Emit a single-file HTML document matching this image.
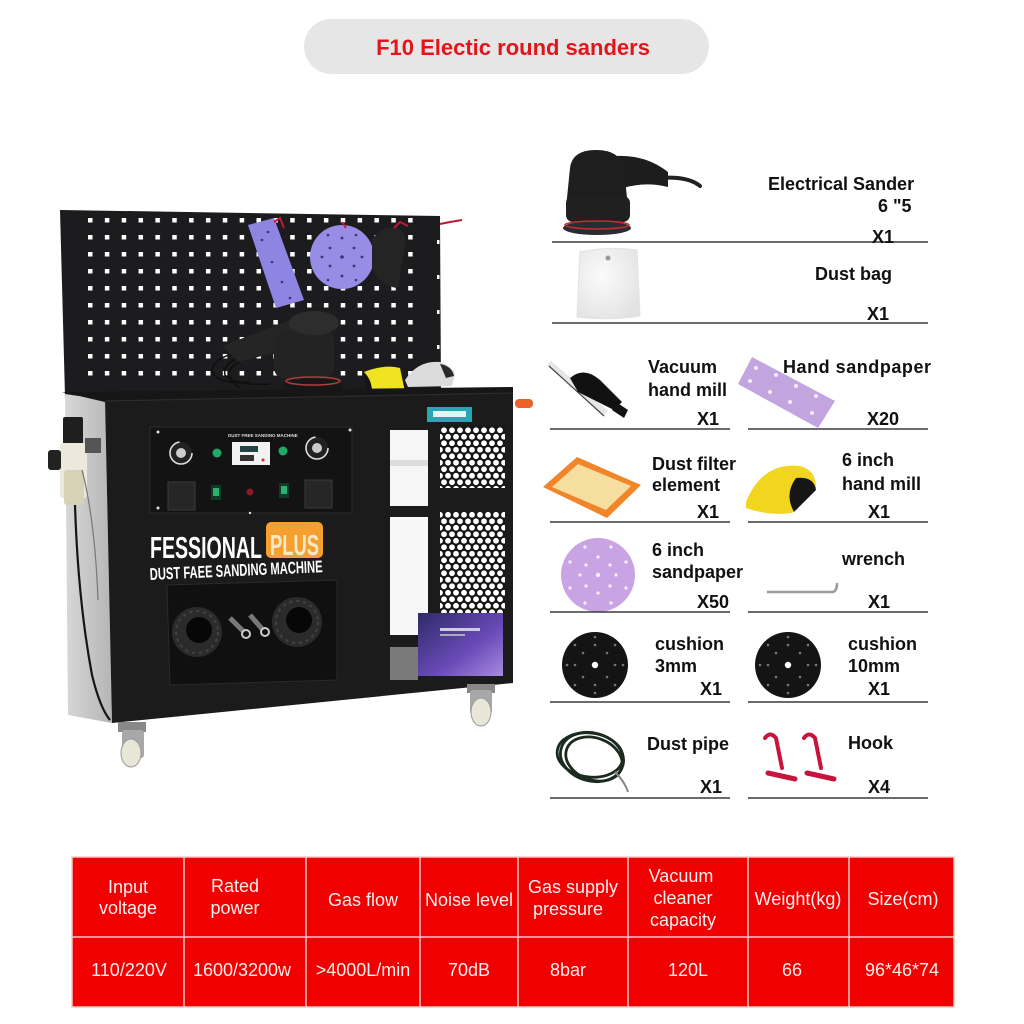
<!DOCTYPE html>
<html><head><meta charset="utf-8">
<style>
html,body{margin:0;padding:0;background:#fff;}
svg{display:block}
text{font-family:"Liberation Sans",Arial,sans-serif;}
.b{font-weight:bold;fill:#111;font-size:18px;}
.t{fill:#ffeeee;font-size:18px;text-anchor:middle;}
</style></head><body>
<svg width="1024" height="1024" viewBox="0 0 1024 1024" xmlns="http://www.w3.org/2000/svg">
<defs>
<pattern id="peg" x="88" y="218" width="16.85" height="17" patternUnits="userSpaceOnUse"><rect x="0" y="0" width="4.5" height="4.5" fill="#fff"/></pattern>
<pattern id="hex" x="440" y="427" width="8" height="13" patternUnits="userSpaceOnUse"><rect width="8" height="13" fill="#161616"/><circle cx="4" cy="3.25" r="2.9" fill="#fff"/><circle cx="0" cy="9.75" r="2.9" fill="#fff"/><circle cx="8" cy="9.75" r="2.9" fill="#fff"/></pattern>
<linearGradient id="side" x1="0" y1="0" x2="1" y2="0"><stop offset="0" stop-color="#d8d8d8"/><stop offset="1" stop-color="#b5b5b5"/></linearGradient>
<linearGradient id="box" x1="0" y1="0" x2="1" y2="1"><stop offset="0" stop-color="#2e2a6a"/><stop offset="0.6" stop-color="#6a4bb8"/><stop offset="1" stop-color="#a88ae0"/></linearGradient>
<radialGradient id="bag" cx="0.4" cy="0.4" r="0.7"><stop offset="0" stop-color="#fbfbfb"/><stop offset="1" stop-color="#e2e2e2"/></radialGradient>
</defs>

<rect width="1024" height="1024" fill="#fff"/>

<!-- Title pill -->
<rect x="304" y="19" width="405" height="55" rx="27.5" fill="#e6e6e6"/>
<text x="513" y="55" text-anchor="middle" font-size="22" font-weight="bold" fill="#e2151d">F10 Electic round sanders</text>

<!-- ===== Machine ===== -->
<!-- pegboard -->
<polygon points="60,210 440,216 441,394 65,396" fill="#1c1c1e"/>
<rect x="86" y="216" width="330" height="164" fill="url(#peg)"/>
<g fill="#fff"><rect x="437" y="240" width="2.5" height="4"/><rect x="437" y="275" width="2.5" height="4"/><rect x="437" y="310" width="2.5" height="4"/><rect x="437" y="345" width="2.5" height="4"/></g>
<!-- items on pegboard -->
<polygon points="248,225 274,218 304,300 276,308" fill="#8e84e2"/>
<g fill="#3a3470"><circle cx="262" cy="240" r="1.3"/><circle cx="272" cy="262" r="1.3"/><circle cx="282" cy="282" r="1.3"/><circle cx="290" cy="298" r="1.3"/><circle cx="268" cy="232" r="1.3"/></g>
<circle cx="342" cy="257" r="32" fill="#988de6"/>
<g fill="#3a3470"><circle cx="342" cy="257" r="1.8"/><circle cx="330" cy="248" r="1.4"/><circle cx="354" cy="248" r="1.4"/><circle cx="330" cy="266" r="1.4"/><circle cx="354" cy="266" r="1.4"/><circle cx="342" cy="238" r="1.4"/><circle cx="342" cy="276" r="1.4"/><circle cx="322" cy="257" r="1.4"/><circle cx="362" cy="257" r="1.4"/><circle cx="328" cy="235" r="1.3"/><circle cx="356" cy="235" r="1.3"/><circle cx="328" cy="280" r="1.3"/><circle cx="356" cy="280" r="1.3"/></g>
<path d="M372,240 Q380,226 398,228 Q408,232 404,250 L398,288 Q385,288 372,270 Z" fill="#242424"/>
<g stroke="#c0163a" stroke-width="2" fill="none"><path d="M274,222 L280,218 L284,228"/><path d="M342,222 L346,228"/><path d="M394,228 L400,222 L408,226"/><path d="M440,224 L450,222 L462,220"/></g>

<!-- sander on top -->
<g fill="none" stroke="#0e0e0e" stroke-width="1.5"><path d="M250,350 Q215,355 212,370 Q215,385 250,382"/><path d="M245,356 Q222,362 225,375 Q235,386 270,384"/><path d="M240,362 Q218,372 240,388"/></g>
<polygon points="222,346 296,318 305,345 238,362" fill="#252525"/>
<rect x="274" y="330" width="60" height="48" rx="10" fill="#232323"/>
<ellipse cx="314" cy="323" rx="25" ry="12" fill="#2d2d2d"/>
<ellipse cx="313" cy="386" rx="30" ry="7" fill="#171717"/>
<ellipse cx="313" cy="381" rx="27" ry="4" fill="none" stroke="#b23b3b" stroke-width="1.5"/>
<!-- yellow pad & white mill on top -->
<path d="M364,372 Q385,364 400,368 L405,392 L368,394 Z" fill="#efe322"/>
<path d="M364,372 Q372,380 372,392 L366,394 Z" fill="#151515"/>
<path d="M405,380 Q418,360 440,362 Q452,366 455,374 L452,386 L408,387 Z" fill="#dcdcdc"/>
<path d="M440,364 Q452,366 454,376 L446,378 Z" fill="#2a2a2a"/>

<!-- cabinet -->
<polygon points="65,394 105,400 112,723 68,715" fill="url(#side)"/>
<polygon points="62,392 513,387 513,399 105,402" fill="#161616"/>
<polygon points="105,400 513,392 513,683 112,723" fill="#1b1b1b"/>
<line x1="105" y1="401" x2="513" y2="393" stroke="#2e2e2e" stroke-width="1"/>
<!-- air filter -->
<rect x="63" y="417" width="20" height="27" rx="2" fill="#1e1e1e"/>
<rect x="60" y="443" width="27" height="55" rx="3" fill="#ece9dc"/>
<rect x="64" y="470" width="20" height="35" rx="3" fill="#d8d2b8"/>
<rect x="48" y="450" width="13" height="20" rx="3" fill="#222"/>
<rect x="85" y="438" width="16" height="15" fill="#555"/>
<path d="M75,505 Q78,600 92,675 Q100,708 110,720" fill="none" stroke="#151515" stroke-width="2.2"/>
<path d="M82,470 Q95,520 98,600" fill="none" stroke="#777" stroke-width="1.2"/>

<!-- control panel -->
<rect x="150" y="427" width="202" height="86" fill="#131313" stroke="#2c2c2c" stroke-width="1"/>
<circle cx="181" cy="453" r="11" fill="#222" stroke="#ddd" stroke-width="1.6" stroke-dasharray="50 20"/>
<circle cx="181" cy="453" r="5" fill="#ccc"/>
<circle cx="317" cy="448" r="11" fill="#222" stroke="#ddd" stroke-width="1.6" stroke-dasharray="50 20"/>
<circle cx="317" cy="448" r="5" fill="#ccc"/>
<rect x="232" y="442" width="38" height="23" fill="#f2f2f2"/>
<rect x="240" y="446" width="18" height="6" fill="#244"/>
<rect x="240" y="455" width="14" height="6" fill="#333"/>
<circle cx="263" cy="460" r="1.5" fill="#d22"/>
<circle cx="217" cy="453" r="4.5" fill="#1faa66"/>
<circle cx="283" cy="451" r="4.5" fill="#1faa66"/>
<text x="228" y="437" font-size="4.5" fill="#ddd" font-weight="bold">DUST FREE SANDING MACHINE</text>
<rect x="168" y="482" width="27" height="28" fill="#262626" stroke="#3a3a3a"/>
<rect x="305" y="480" width="27" height="28" fill="#262626" stroke="#3a3a3a"/>
<rect x="211" y="485" width="10" height="15" fill="#0f3a26"/><rect x="213" y="488" width="6" height="8" fill="#2ab070"/>
<rect x="279" y="483" width="10" height="15" fill="#0f3a26"/><rect x="281" y="486" width="6" height="8" fill="#2ab070"/>
<circle cx="250" cy="492" r="3.5" fill="#8a1a2a"/>
<g fill="#ddd"><circle cx="158" cy="432" r="1.5"/><circle cx="350" cy="430" r="1.5"/><circle cx="158" cy="508" r="1.5"/><circle cx="250" cy="513" r="1.2"/></g>

<!-- logo -->
<text x="150" y="558" font-size="31" font-weight="bold" fill="#fff" textLength="112" lengthAdjust="spacingAndGlyphs">FESSIONAL</text>
<rect x="266" y="522" width="57" height="36" rx="5" fill="#f3a030"/>
<text x="270" y="555" font-size="29" font-weight="bold" fill="#fde8c4" textLength="49" lengthAdjust="spacingAndGlyphs">PLUS</text>
<text x="150" y="580" font-size="17" font-weight="bold" fill="#fff" textLength="173" lengthAdjust="spacingAndGlyphs" transform="rotate(-2.6 150 580)">DUST FAEE SANDING MACHINE</text>

<!-- recessed panel with ports -->
<polygon points="167,585 337,580 337,680 170,685" fill="#101010" stroke="#2a2a2a" stroke-width="1"/>
<circle cx="197" cy="632" r="25" fill="#2b2b2b"/>
<circle cx="197" cy="632" r="21" fill="none" stroke="#444" stroke-width="2" stroke-dasharray="3 4"/>
<circle cx="199" cy="630" r="13" fill="#070707"/>
<circle cx="297" cy="622" r="25" fill="#2b2b2b"/>
<circle cx="297" cy="622" r="21" fill="none" stroke="#444" stroke-width="2" stroke-dasharray="3 4"/>
<circle cx="299" cy="620" r="13" fill="#070707"/>
<line x1="230" y1="618" x2="244" y2="632" stroke="#777" stroke-width="5"/>
<line x1="250" y1="615" x2="263" y2="630" stroke="#777" stroke-width="5"/>
<circle cx="246" cy="634" r="4" fill="none" stroke="#ccc" stroke-width="2"/>
<circle cx="265" cy="632" r="4" fill="none" stroke="#ccc" stroke-width="2"/>

<!-- right open section -->
<rect x="390" y="430" width="38" height="76" fill="#f6f6f6"/>
<rect x="390" y="460" width="38" height="6" fill="#ddd"/>
<rect x="390" y="517" width="38" height="118" fill="#f7f7f7"/>
<rect x="390" y="647" width="28" height="33" fill="#7a7a7a"/>
<rect x="440" y="427" width="65" height="61" fill="url(#hex)"/>
<rect x="440" y="512" width="65" height="103" fill="url(#hex)"/>
<rect x="427" y="407" width="45" height="15" fill="#27a7b6"/>
<rect x="433" y="411" width="33" height="6" fill="#e8f4f4"/>
<rect x="515" y="399" width="18" height="9" rx="4" fill="#e8622a"/>
<rect x="418" y="613" width="85" height="63" fill="url(#box)"/>
<rect x="440" y="628" width="40" height="3" fill="#ccd"/>
<rect x="440" y="634" width="25" height="2" fill="#aab"/>

<!-- wheels -->
<rect x="118" y="722" width="28" height="10" fill="#888"/>
<rect x="122" y="730" width="22" height="28" rx="3" fill="#a8a8a8"/>
<ellipse cx="131" cy="753" rx="10" ry="14" fill="#e8e6d6" stroke="#999"/>
<rect x="467" y="684" width="28" height="9" fill="#888"/>
<rect x="470" y="690" width="22" height="24" rx="3" fill="#a8a8a8"/>
<ellipse cx="481" cy="712" rx="10" ry="14" fill="#e8e6d6" stroke="#999"/>

<!-- ===== Right side items ===== -->
<!-- sander -->
<path d="M660,178 Q688,176 700,186" fill="none" stroke="#222" stroke-width="4" stroke-linecap="round"/>
<path d="M600,158 Q640,150 668,172 L668,187 Q640,180 612,192 Z" fill="#1d1d1d"/>
<path d="M570,168 Q572,150 596,150 Q620,150 624,168 L628,208 L566,208 Z" fill="#1e1e1e"/>
<rect x="566" y="196" width="64" height="26" rx="7" fill="#202020"/>
<ellipse cx="597" cy="228" rx="34" ry="7" fill="#2b2b35"/>
<ellipse cx="597" cy="225" rx="32" ry="4" fill="none" stroke="#c0302a" stroke-width="1.6"/>
<!-- dust bag -->
<path d="M580,252 Q608,246 637,250 L640,316 Q608,321 577,317 Z" fill="url(#bag)" stroke="#e2e2e2"/>
<circle cx="608" cy="258" r="2.5" fill="#999"/>
<!-- vacuum hand mill -->
<line x1="549" y1="363" x2="606" y2="413" stroke="#e6e6e6" stroke-width="6"/>
<line x1="549" y1="366" x2="604" y2="416" stroke="#444" stroke-width="1.2"/>
<path d="M570,378 Q584,366 600,380 L622,402 L614,410 L578,392 Z" fill="#111"/>
<polygon points="616,402 628,410 624,418 612,410" fill="#111"/>
<!-- hand sandpaper -->
<polygon points="752,357 835,401 818,428 738,384" fill="#c2a5de"/>
<g fill="#f4ecfa"><circle cx="756" cy="368" r="2"/><circle cx="776" cy="375" r="2"/><circle cx="796" cy="386" r="2"/><circle cx="816" cy="396" r="2"/><circle cx="750" cy="381" r="2"/><circle cx="770" cy="392" r="2"/><circle cx="790" cy="402" r="2"/><circle cx="812" cy="413" r="2"/></g>
<!-- dust filter -->
<polygon points="543,487 577,457 641,485 607,518" fill="#f0852a"/>
<polygon points="552,487 578,464 631,486 606,510" fill="#f6dea0"/>
<!-- yellow hand mill -->
<path d="M746,502 Q762,462 800,466 Q816,470 816,488 L792,513 Q768,516 746,508 Z" fill="#f1d51e"/>
<path d="M796,478 Q814,476 816,490 L794,512 Q784,494 796,478 Z" fill="#161616"/>
<!-- purple disc -->
<circle cx="598" cy="575" r="37" fill="#c9a4e4"/>
<g fill="#f6eefc"><circle cx="598" cy="575" r="2.2"/><circle cx="586" cy="565" r="1.6"/><circle cx="610" cy="565" r="1.6"/><circle cx="586" cy="586" r="1.6"/><circle cx="610" cy="586" r="1.6"/><circle cx="598" cy="557" r="1.6"/><circle cx="598" cy="593" r="1.6"/><circle cx="580" cy="575" r="1.6"/><circle cx="616" cy="575" r="1.6"/><circle cx="585" cy="547" r="1.6"/><circle cx="611" cy="547" r="1.6"/><circle cx="570" cy="562" r="1.6"/><circle cx="626" cy="562" r="1.6"/><circle cx="570" cy="588" r="1.6"/><circle cx="626" cy="588" r="1.6"/><circle cx="585" cy="603" r="1.6"/><circle cx="611" cy="603" r="1.6"/></g>
<!-- wrench -->
<path d="M767,592 L833,592 Q837,591 837,583" fill="none" stroke="#9a9a9a" stroke-width="2.5"/>
<!-- cushions -->
<g id="cush">
<circle cx="595" cy="665" r="33" fill="#141414"/>
<g fill="#777"><circle cx="595" cy="645" r="1.3"/><circle cx="595" cy="685" r="1.3"/><circle cx="575" cy="665" r="1.3"/><circle cx="615" cy="665" r="1.3"/><circle cx="583" cy="653" r="1.3"/><circle cx="607" cy="653" r="1.3"/><circle cx="583" cy="677" r="1.3"/><circle cx="607" cy="677" r="1.3"/><circle cx="595" cy="637" r="1.3"/><circle cx="595" cy="693" r="1.3"/><circle cx="567" cy="665" r="1.3"/><circle cx="623" cy="665" r="1.3"/><circle cx="575" cy="645" r="1.3"/><circle cx="615" cy="645" r="1.3"/><circle cx="575" cy="685" r="1.3"/><circle cx="615" cy="685" r="1.3"/></g>
<circle cx="595" cy="665" r="3.2" fill="#fff"/>
</g>
<use href="#cush" x="193" y="0"/>
<!-- dust pipe -->
<g fill="none" stroke="#1a2a1e" stroke-width="2.8">
<ellipse cx="592" cy="757" rx="32" ry="24" transform="rotate(15 592 757)"/>
<ellipse cx="594" cy="759" rx="29" ry="21" transform="rotate(20 594 759)"/>
<ellipse cx="590" cy="755" rx="33" ry="22" transform="rotate(8 590 755)"/>
</g>
<path d="M615,772 Q625,782 628,792" fill="none" stroke="#888" stroke-width="2"/>
<!-- hooks -->
<g fill="none" stroke="#c8143c" stroke-linecap="round">
<path d="M765,738 Q770,731 776,738 L782,768" stroke-width="4"/>
<path d="M768,773 L795,779" stroke-width="5"/>
<path d="M804,738 Q809,731 815,738 L821,768" stroke-width="4"/>
<path d="M807,773 L834,779" stroke-width="5"/>
</g>

<!-- list lines -->
<g stroke="#3a3a3a" stroke-width="1.6">
<line x1="552" y1="242" x2="928" y2="242"/>
<line x1="552" y1="323" x2="928" y2="323"/>
<line x1="550" y1="429" x2="730" y2="429"/><line x1="748" y1="429" x2="928" y2="429"/>
<line x1="550" y1="522" x2="730" y2="522"/><line x1="748" y1="522" x2="928" y2="522"/>
<line x1="550" y1="612" x2="730" y2="612"/><line x1="748" y1="612" x2="928" y2="612"/>
<line x1="550" y1="702" x2="730" y2="702"/><line x1="748" y1="702" x2="928" y2="702"/>
<line x1="550" y1="798" x2="730" y2="798"/><line x1="748" y1="798" x2="928" y2="798"/>
</g>

<!-- list text -->
<text class="b" x="768" y="190">Electrical Sander</text>
<text class="b" x="878" y="212">6 "5</text>
<text class="b" x="872" y="243">X1</text>
<text class="b" x="815" y="280">Dust bag</text>
<text class="b" x="867" y="320">X1</text>
<text class="b" x="648" y="373">Vacuum</text>
<text class="b" x="648" y="396">hand mill</text>
<text class="b" x="697" y="425">X1</text>
<text class="b" x="783" y="373" textLength="148" lengthAdjust="spacing">Hand sandpaper</text>
<text class="b" x="867" y="425">X20</text>
<text class="b" x="652" y="470">Dust filter</text>
<text class="b" x="652" y="491">element</text>
<text class="b" x="697" y="518">X1</text>
<text class="b" x="842" y="466">6 inch</text>
<text class="b" x="842" y="490">hand mill</text>
<text class="b" x="868" y="518">X1</text>
<text class="b" x="652" y="556">6 inch</text>
<text class="b" x="652" y="578">sandpaper</text>
<text class="b" x="697" y="608">X50</text>
<text class="b" x="842" y="565">wrench</text>
<text class="b" x="868" y="608">X1</text>
<text class="b" x="655" y="650">cushion</text>
<text class="b" x="655" y="672">3mm</text>
<text class="b" x="700" y="695">X1</text>
<text class="b" x="848" y="650">cushion</text>
<text class="b" x="848" y="672">10mm</text>
<text class="b" x="868" y="695">X1</text>
<text class="b" x="647" y="750">Dust pipe</text>
<text class="b" x="848" y="749">Hook</text>
<text class="b" x="700" y="793">X1</text>
<text class="b" x="868" y="793">X4</text>

<!-- ===== Table ===== -->
<rect x="72" y="857" width="882" height="150" fill="#f00000"/>
<g stroke="#f6c8c8" stroke-width="1.5">
<rect x="72" y="857" width="882" height="150" fill="none"/>
<line x1="72" y1="937" x2="954" y2="937"/>
<line x1="184" y1="857" x2="184" y2="1007"/>
<line x1="306" y1="857" x2="306" y2="1007"/>
<line x1="420" y1="857" x2="420" y2="1007"/>
<line x1="518" y1="857" x2="518" y2="1007"/>
<line x1="628" y1="857" x2="628" y2="1007"/>
<line x1="748" y1="857" x2="748" y2="1007"/>
<line x1="849" y1="857" x2="849" y2="1007"/>
</g>
<text class="t" x="128" y="893">Input</text>
<text class="t" x="128" y="914">voltage</text>
<text class="t" x="235" y="892">Rated</text>
<text class="t" x="235" y="914">power</text>
<text class="t" x="363" y="906">Gas flow</text>
<text class="t" x="469" y="906">Noise level</text>
<text class="t" x="573" y="893">Gas supply</text>
<text class="t" x="568" y="915">pressure</text>
<text class="t" x="681" y="882">Vacuum</text>
<text class="t" x="683" y="904">cleaner</text>
<text class="t" x="683" y="926">capacity</text>
<text class="t" x="798" y="905">Weight(kg)</text>
<text class="t" x="903" y="905">Size(cm)</text>
<text class="t" x="129" y="976">110/220V</text>
<text class="t" x="242" y="976">1600/3200w</text>
<text class="t" x="363" y="976">&gt;4000L/min</text>
<text class="t" x="469" y="976">70dB</text>
<text class="t" x="568" y="976">8bar</text>
<text class="t" x="688" y="976">120L</text>
<text class="t" x="792" y="976">66</text>
<text class="t" x="902" y="976">96*46*74</text>
</svg>
</body></html>
